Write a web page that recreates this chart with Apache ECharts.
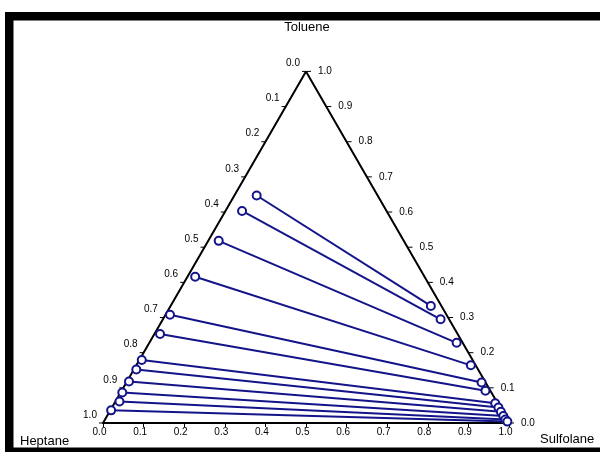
<!DOCTYPE html>
<html>
<head>
<meta charset="utf-8">
<script src="https://cdn.jsdelivr.net/npm/echarts@6/dist/echarts.min.js"></script>
<style>
	body { margin: 0; background: #fff; }
	#ternary { width: 600px; height: 452px; }
</style>
</head>
<body>
<div id="ternary"></div>
<script>
// tie line end points, mass fractions (heptane = 1 - toluene - sulfolane)
var raffToluene = [0.647, 0.603, 0.518, 0.416, 0.308, 0.253, 0.179, 0.152, 0.118, 0.087, 0.061, 0.036];
var raffSulfolane = [0.055, 0.041, 0.026, 0.019, 0.011, 0.014, 0.006, 0.006, 0.005, 0.004, 0.010, 0.002];
var extToluene = [0.333, 0.295, 0.228, 0.164, 0.115, 0.092, 0.056, 0.044, 0.032, 0.020, 0.010, 0.004];
var extSulfolane = [0.641, 0.684, 0.757, 0.824, 0.875, 0.896, 0.938, 0.952, 0.964, 0.976, 0.986, 0.994];
var tickValues = [0, 0.1, 0.2, 0.3, 0.4, 0.5, 0.6, 0.7, 0.8, 0.9, 1.0];

window.onload = function() {
	var H = Math.sqrt(3) / 2;
	var navy = '#14148a';
	var font = 'Arial, "Liberation Sans", sans-serif';

	function toXY(t, s) { //ternary -> cartesian (sulfolane right, toluene top)
		return [s + t / 2, t * H];
	}

	var tieLines = [], points = [];
	for(var i = 0; i < raffToluene.length; i++) {
		var a = toXY(raffToluene[i], raffSulfolane[i]);
		var b = toXY(extToluene[i], extSulfolane[i]);
		tieLines.push({ coords: [a, b] });
		points.push(a);
		points.push(b);
	}

	function edgeTicks(params, api) { //ticks + labels on left and right edges
		var v = tickValues[params.dataIndex];
		var pl = api.coord(toXY(1 - v, 0)); // left edge, heptane
		var pr = api.coord(toXY(v, 1 - v)); // right edge, toluene
		var lbl = v.toFixed(1);
		return {
			type: 'group',
			children: [
				{ type: 'line', shape: { x1: pl[0] - 4, y1: pl[1], x2: pl[0], y2: pl[1] }, style: { stroke: '#000', lineWidth: 1 } },
				{ type: 'text', x: pl[0] - 13, y: pl[1] - 8, style: { text: lbl, fill: '#000', font: '10px ' + font, align: 'center', verticalAlign: 'middle' } },
				{ type: 'line', shape: { x1: pr[0], y1: pr[1], x2: pr[0] + 5, y2: pr[1] }, style: { stroke: '#000', lineWidth: 1 } },
				{ type: 'text', x: pr[0] + 12, y: pr[1], style: { text: lbl, fill: '#000', font: '10px ' + font, align: 'left', verticalAlign: 'middle' } }
			]
		};
	}

	var option = {
		animation: false,
		backgroundColor: '#fff',
		grid: { left: 103, top: 71.4, width: 406, height: 351.6 },
		xAxis: {
			type: 'value', min: 0, max: 1, interval: 0.1,
			axisLine: { lineStyle: { color: '#000', width: 2 } },
			axisTick: { length: 4, lineStyle: { color: '#000' } },
			axisLabel: {
				color: '#000', fontSize: 10, fontFamily: font, margin: 4,
				padding: [0, 7, 0, 0],
				formatter: function(v) { return v.toFixed(1); }
			},
			splitLine: { show: false }
		},
		yAxis: { type: 'value', min: 0, max: H, show: false },
		graphic: [
			{ type: 'rect', shape: { x: 5, y: 12, width: 595, height: 8.5 }, style: { fill: '#000' } },
			{ type: 'rect', shape: { x: 5, y: 12, width: 8.5, height: 440 }, style: { fill: '#000' } },
			{ type: 'rect', shape: { x: 5, y: 447.5, width: 595, height: 5 }, style: { fill: '#000' } },
			{ type: 'text', x: 307, y: 27, style: { text: 'Toluene', fill: '#000', font: '13px ' + font, align: 'center', verticalAlign: 'middle' } },
			{ type: 'text', x: 20, y: 441, style: { text: 'Heptane', fill: '#000', font: '13px ' + font, verticalAlign: 'middle' } },
			{ type: 'text', x: 540, y: 439, style: { text: 'Sulfolane', fill: '#000', font: '13px ' + font, verticalAlign: 'middle' } }
		],
		series: [{
			type: 'line',
			data: [[0, 0], [0.5, H], [1, 0]],
			symbol: 'none',
			lineStyle: { color: '#000', width: 2 },
			z: 3
		}, {
			type: 'custom',
			renderItem: edgeTicks,
			data: tickValues,
			z: 2
		}, {
			type: 'lines',
			coordinateSystem: 'cartesian2d',
			data: tieLines,
			lineStyle: { color: navy, width: 2, opacity: 1 },
			z: 4
		}, {
			type: 'scatter',
			data: points,
			symbol: 'circle',
			symbolSize: 8,
			itemStyle: { color: '#fff', borderColor: navy, borderWidth: 2, opacity: 1 },
			z: 5
		}]
	};
	var chart = echarts.init(document.getElementById('ternary'));
	chart.setOption(option);
};
</script>
</body>
</html>
